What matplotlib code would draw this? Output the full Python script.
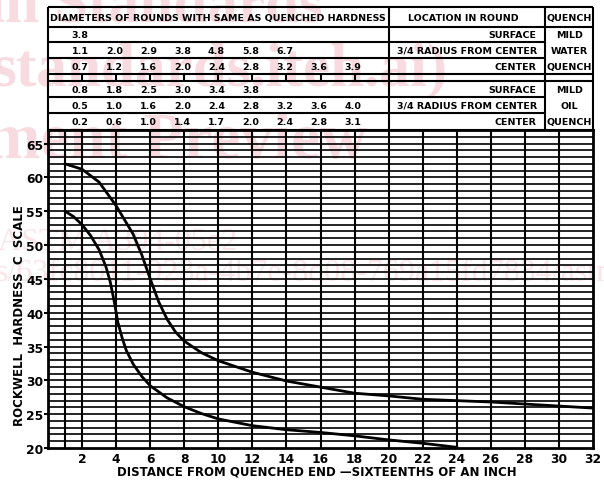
import matplotlib.pyplot as plt

# Jominy curves: distance from quenched end (1/16 in) vs Rockwell C
upper_x = [1, 2, 3, 4, 5, 5.5, 6, 6.5, 7, 7.5, 8, 9, 10, 12, 14, 16, 18, 20, 22, 24, 26, 28, 30, 32]
upper_y = [62, 61.2, 59.3, 55.8, 51.6, 48.6, 45, 41.6, 39, 37.1, 35.8, 34.1, 32.9, 31.2, 29.9, 29,
           28.1, 27.7, 27.2, 27, 26.8, 26.5, 26.2, 25.9]
lower_x = [1, 1.5, 2, 2.5, 3, 3.4, 3.65, 3.9, 4.1, 4.35, 4.6, 5, 5.5, 6, 7, 8, 9, 10, 12, 14, 16, 18,
           20, 22, 24]
lower_y = [55, 54.2, 53, 51.4, 49.3, 46.8, 44.6, 41.5, 38.6, 36.3, 34.4, 32.4, 30.6, 29.2, 27.4, 26.1,
           25.1, 24.3, 23.3, 22.7, 22.3, 21.8, 21.2, 20.7, 20.1]

# table of equivalent round diameters (one value per even distance 2, 4, ...)
water_surface = ["3.8"]
water_34 = ["1.1", "2.0", "2.9", "3.8", "4.8", "5.8", "6.7"]
water_center = ["0.7", "1.2", "1.6", "2.0", "2.4", "2.8", "3.2", "3.6", "3.9"]
oil_surface = ["0.8", "1.8", "2.5", "3.0", "3.4", "3.8"]
oil_34 = ["0.5", "1.0", "1.6", "2.0", "2.4", "2.8", "3.2", "3.6", "4.0"]
oil_center = ["0.2", "0.6", "1.0", "1.4", "1.7", "2.0", "2.4", "2.8", "3.1"]
locations = ["SURFACE", "3/4 RADIUS FROM CENTER", "CENTER"]
water_quench = ["MILD", "WATER", "QUENCH"]
oil_quench = ["MILD", "OIL", "QUENCH"]

x_ticks = list(range(2, 33, 2))
y_ticks = list(range(20, 66, 5))

W, H = 604, 481
fig = plt.figure(figsize=(W / 100, H / 100), dpi=100)
fig.patch.set_facecolor('white')

# faint watermark of the scanned source page
wm = '#f8dbe1'
wm2 = '#fae4e8'
fig.text(-12 / W, 1 - 22 / H, "in Standards", fontsize=44, family='Liberation Serif',
         weight='bold', color=wm, zorder=-5, va='baseline')
fig.text(-8 / W, 1 - 86 / H, "standards.iteh.ai)", fontsize=44, family='Liberation Serif',
         weight='bold', color=wm, zorder=-5, va='baseline')
fig.text(-14 / W, 1 - 158 / H, "ment Preview", fontsize=47, family='Liberation Serif',
         weight='bold', color=wm, zorder=-5, va='baseline')
fig.text(-2 / W, 1 - 250 / H, "ASTM A304-05e2", fontsize=23, family='Liberation Serif',
         color=wm2, zorder=-5, va='baseline')
fig.text(-4 / W, 1 - 281 / H, "s/63fc8011-923a-4b7e-8d08-769a15fd7834/astm-a304-05e2", fontsize=23,
         family='Liberation Serif', color=wm2, zorder=-5, va='baseline')

# ---- chart ----
ax = fig.add_axes([48 / W, 32 / H, 545 / W, 318 / H])
ax.patch.set_alpha(0)
ax.set_xlim(0, 32)
ax.set_ylim(20, 67)
ax.hlines(range(21, 67), 0, 32, color='black', lw=1.2, zorder=1)
ax.vlines([1] + list(range(2, 32, 2)), 20, 67, color='black', lw=1.5, zorder=1)
ax.plot(upper_x, upper_y, color='black', lw=2.0, zorder=3)
ax.plot(lower_x, lower_y, color='black', lw=2.0, zorder=3)
for s in ax.spines.values():
    s.set_linewidth(2)

ax.set_xticks(x_ticks)
ax.set_yticks(y_ticks)
ax.tick_params(axis='x', length=0, pad=3.0, labelsize=8.8)
ax.tick_params(axis='y', length=3, width=1.5, pad=0.5, labelsize=8.8)
for lab in ax.get_xticklabels() + ax.get_yticklabels():
    lab.set_fontweight('bold')
ax.set_xlabel("DISTANCE FROM QUENCHED END \u2014SIXTEENTHS OF AN INCH", fontsize=8.5, weight='bold')
ax.set_ylabel("ROCKWELL  HARDNESS  C  SCALE", fontsize=8.5, weight='bold')
ax.xaxis.set_label_coords(0.494, -0.052)
ax.yaxis.set_label_coords(-0.040, 0.418)

# ---- table above the chart (x in sixteenths, y in pixels from table top) ----
tx = fig.add_axes([48 / W, 350 / H, 545 / W, 123 / H])
tx.patch.set_alpha(0)
tx.set_xlim(0, 32)
tx.set_ylim(123, 0)
tx.axis('off')
lk = dict(color='black', lw=1.5, clip_on=False)
tx.hlines([0, 20, 67, 74, 123], 0, 32, **lk)
tx.hlines([35, 51, 90, 106], 0, 29.2, **lk)
tx.vlines([0, 20, 29.2, 32], 0, 123, **lk)
tx.vlines(range(2, 20, 2), 67, 74, **lk)

fs = 6.8
tk = dict(fontsize=fs, weight='bold', va='center')
tx.text(0.1, 10.5, "DIAMETERS OF ROUNDS WITH SAME AS QUENCHED HARDNESS", ha='left', **tk)
tx.text(24.4, 10.5, "LOCATION IN ROUND", ha='center', **tk)
tx.text(30.6, 10.5, "QUENCH", ha='center', **tk)

row_y = [27.5, 43.5, 59.5, 82.5, 98.5, 114.5]
rows = [water_surface, water_34, water_center, oil_surface, oil_34, oil_center]
for yy, vals in zip(row_y, rows):
    for i, v in enumerate(vals):
        tx.text(2 * (i + 1) - 0.1, yy, v, ha='center', **tk)

for k, yy in enumerate(row_y):
    loc = locations[k % 3]
    if loc.startswith("3/4"):
        tx.text(24.6, yy, loc, ha='center', **tk)
    else:
        tx.text(28.7, yy, loc, ha='right', **tk)
for yy, q in zip(row_y[:3], water_quench):
    tx.text(30.6, yy, q, ha='center', **tk)
for yy, q in zip(row_y[3:], oil_quench):
    tx.text(30.6, yy, q, ha='center', **tk)

fig.savefig('out.png', dpi=100)
